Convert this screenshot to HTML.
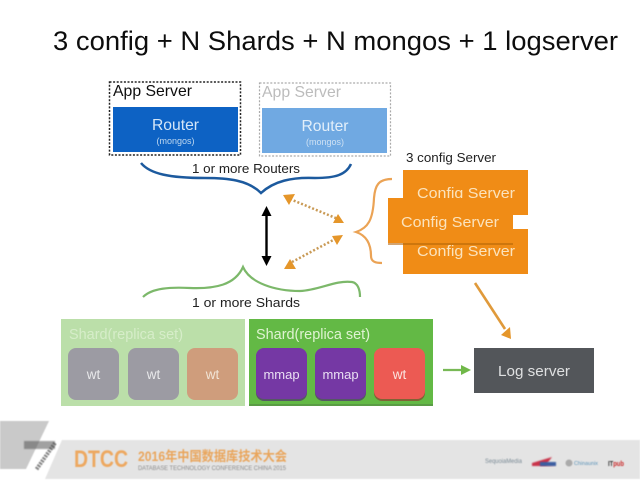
<!DOCTYPE html>
<html><head><meta charset="utf-8">
<style>
html,body{margin:0;padding:0;background:#fff;width:640px;height:480px;overflow:hidden}
svg{display:block}
text{font-family:"Liberation Sans","Noto Sans CJK SC",sans-serif}
</style></head>
<body>
<svg width="640" height="480" viewBox="0 0 640 480" xmlns="http://www.w3.org/2000/svg">
<defs>
<filter id="b" x="-20%" y="-20%" width="140%" height="140%"><feGaussianBlur stdDeviation="0.8"/></filter>
<filter id="s" x="-10%" y="-10%" width="120%" height="120%"><feGaussianBlur stdDeviation="0.5"/></filter>
<filter id="g" x="0" y="0" width="100%" height="100%"><feGaussianBlur stdDeviation="0.3"/></filter>
</defs>
<rect width="640" height="480" fill="#fff"/>
<g filter="url(#g)">
<text x="53" y="50" font-size="27" fill="#111" textLength="565" lengthAdjust="spacingAndGlyphs">3 config + N Shards + N mongos + 1 logserver</text>

<!-- App servers -->
<rect x="109.500" y="82" width="131" height="73" fill="#fff" stroke="#222" stroke-width="1.500" stroke-dasharray="2 1.600"/>
<text x="113" y="96" font-size="16" fill="#111" textLength="79" lengthAdjust="spacingAndGlyphs">App Server</text>
<rect x="113" y="107" width="125" height="45" fill="#0b62c4"/>
<text x="175.500" y="130" font-size="16" fill="#d5e6f7" text-anchor="middle" textLength="47" lengthAdjust="spacingAndGlyphs">Router</text>
<text x="175.500" y="144" font-size="9" fill="#c0d8f0" text-anchor="middle">(mongos)</text>

<rect x="259.500" y="83" width="131" height="73" fill="#fff" stroke="#aaa" stroke-width="1.200" stroke-dasharray="2 1.600"/>
<text x="262" y="97" font-size="16" fill="#bcbcbc" textLength="79" lengthAdjust="spacingAndGlyphs">App Server</text>
<rect x="262" y="108" width="125" height="45" fill="#6fa9e2"/>
<text x="325" y="131" font-size="16" fill="#e3effa" text-anchor="middle" textLength="47" lengthAdjust="spacingAndGlyphs">Router</text>
<text x="325" y="145" font-size="9" fill="#cfe1f3" text-anchor="middle">(mongos)</text>

<!-- Router brace -->
<path d="M141 163 C150 174 170 178 205 178 C228 178 248 180 261 193 C274 181 292 177 315 178 C335 178 346 175 351 164" fill="none" stroke="#1f5a9e" stroke-width="2.500"/>
<text x="246" y="173" font-size="13" fill="#222" text-anchor="middle" textLength="108" lengthAdjust="spacingAndGlyphs">1 or more Routers</text>

<!-- Black double arrow -->
<line x1="266.500" y1="215" x2="266.500" y2="258" stroke="#000" stroke-width="2.400"/>
<polygon points="266.500,206 261.500,216 271.500,216" fill="#000"/>
<polygon points="266.500,266 261.500,256 271.500,256" fill="#000"/>

<!-- Orange dotted arrows -->
<line x1="290" y1="199" x2="338" y2="219" stroke="#c99a55" stroke-width="2.500" stroke-dasharray="2 2"/>
<polygon points="283,195 295,194 289,205" fill="#e5962c"/>
<polygon points="344,223 333,223 338,214" fill="#e5962c"/>
<line x1="292" y1="262" x2="337" y2="238" stroke="#c99a55" stroke-width="2.500" stroke-dasharray="2 2"/>
<polygon points="284,269 290,259 296,269" fill="#e5962c"/>
<polygon points="343,235 332,236 337,245" fill="#e5962c"/>

<!-- Config -->
<text x="406" y="162" font-size="12.500" fill="#222" textLength="90" lengthAdjust="spacingAndGlyphs">3 config Server</text>
<path d="M392 179 C378 179 375 186 374 198 C373 220 368 228 356 232 C368 236 371 246 371 256 C371 262 376 263 382 263" fill="none" stroke="#eba355" stroke-width="2.200"/>
<rect x="403" y="170" width="125" height="45" fill="#f08c16"/>
<text x="466" y="198" font-size="15" fill="#fbe3bd" text-anchor="middle" textLength="98" lengthAdjust="spacingAndGlyphs">Config Server</text>
<rect x="403" y="229" width="125" height="45" fill="#f08c16"/>
<text x="466" y="256" font-size="15" fill="#fbe3bd" text-anchor="middle" textLength="98" lengthAdjust="spacingAndGlyphs">Config Server</text>
<rect x="388" y="199" width="125" height="46" fill="#b5680f" opacity=".6"/>
<rect x="388" y="198" width="125" height="45" fill="#f08c16"/>
<text x="450" y="227" font-size="15" fill="#fbe3bd" text-anchor="middle" textLength="98" lengthAdjust="spacingAndGlyphs">Config Server</text>

<!-- Shard brace -->
<path d="M143 297 C152 288 170 287 190 288 C215 289 235 285 243 267 C250 283 275 291 300 291 C320 290 335 280 352 282 C358 283 360 290 360 297" fill="none" stroke="#7cb86a" stroke-width="2.200"/>
<text x="246" y="307" font-size="13" fill="#222" text-anchor="middle" textLength="108" lengthAdjust="spacingAndGlyphs">1 or more Shards</text>

<!-- Faded shard -->
<rect x="61" y="319" width="184" height="87" fill="#bbdfa9"/>
<text x="69" y="339" font-size="14.500" fill="#d6edc9" textLength="114" lengthAdjust="spacingAndGlyphs">Shard(replica set)</text>
<rect x="68" y="348" width="51" height="52" rx="8" fill="#9c9ba3"/>
<rect x="128" y="348" width="51" height="52" rx="8" fill="#9c9ba3"/>
<rect x="187" y="348" width="51" height="52" rx="8" fill="#cf9d7b"/>
<text x="93.500" y="379" font-size="13.500" fill="#e8e8ea" text-anchor="middle">wt</text>
<text x="153.500" y="379" font-size="13.500" fill="#e8e8ea" text-anchor="middle">wt</text>
<text x="212.500" y="379" font-size="13.500" fill="#f1e4d6" text-anchor="middle">wt</text>

<!-- Active shard -->
<rect x="249" y="319" width="184" height="87" fill="#64b944"/>
<rect x="249" y="404" width="184" height="2" fill="#5a9c44"/>
<text x="256" y="339" font-size="14.500" fill="#dff3d2" textLength="114" lengthAdjust="spacingAndGlyphs">Shard(replica set)</text>
<rect x="256" y="349" width="51" height="52" rx="8" fill="#4d2f70" opacity=".7"/>
<rect x="315" y="349" width="51" height="52" rx="8" fill="#4d2f70" opacity=".7"/>
<rect x="374" y="349" width="51" height="52" rx="8" fill="#8a4030" opacity=".7"/>
<rect x="256" y="348" width="51" height="51" rx="8" fill="#7438a4"/>
<rect x="315" y="348" width="51" height="51" rx="8" fill="#7438a4"/>
<rect x="374" y="348" width="51" height="51" rx="8" fill="#ec5a52"/>
<text x="281.500" y="379" font-size="13" fill="#eadff3" text-anchor="middle">mmap</text>
<text x="340.500" y="379" font-size="13" fill="#eadff3" text-anchor="middle">mmap</text>
<text x="399.500" y="379" font-size="13.500" fill="#fbe4e0" text-anchor="middle">wt</text>

<!-- Log server -->
<line x1="475" y1="283" x2="505" y2="329" stroke="#e09a3a" stroke-width="2.600"/>
<polygon points="511,339 501,335 510,327" fill="#e5962c"/>
<line x1="443" y1="370" x2="462" y2="370" stroke="#78b956" stroke-width="2.200"/>
<polygon points="471,370 461,365 461,375" fill="#70b848"/>
<rect x="474" y="348" width="120" height="45" fill="#53565a"/>
<text x="534" y="376" font-size="14.500" fill="#dfe0e1" text-anchor="middle" textLength="72" lengthAdjust="spacingAndGlyphs">Log server</text>
</g>

<!-- Footer -->
<polygon points="62,440 640,440 640,479 45,479" fill="#e4e4e4" filter="url(#s)"/>
<polygon points="0,421 49,421 26,469 0,469" fill="#c9c9c9" filter="url(#s)"/>
<polygon points="50,440 33,471 43,471 57,440" fill="#fff"/>
<rect x="24" y="441" width="31" height="8" fill="#555" opacity=".55" filter="url(#b)"/>
<line x1="55" y1="443" x2="36" y2="470" stroke="#555" stroke-width="4" stroke-dasharray="2 1" opacity=".7" filter="url(#s)"/>
<text x="74" y="467" font-size="24" font-weight="bold" fill="#eda860" textLength="54" lengthAdjust="spacingAndGlyphs" filter="url(#s)">DTCC</text>
<text x="138" y="461" font-size="13.500" font-weight="bold" fill="#e9a55c" textLength="149" lengthAdjust="spacingAndGlyphs" filter="url(#s)">2016年中国数据库技术大会</text>
<text x="138" y="470" font-size="6" fill="#8b8b8b" textLength="148" lengthAdjust="spacingAndGlyphs" filter="url(#s)">DATABASE TECHNOLOGY CONFERENCE CHINA 2015</text>
<text x="485" y="463" font-size="6.500" fill="#7a8a95" textLength="37" lengthAdjust="spacingAndGlyphs" filter="url(#s)">SequoiaMedia</text>
<polygon points="532,463 552,457 546,465 556,466 532,466" fill="#c93348" filter="url(#b)"/>
<rect x="540" y="462" width="16" height="4" fill="#3a5da0" filter="url(#b)"/>
<circle cx="569" cy="463" r="3.500" fill="#aaa" filter="url(#s)"/>
<text x="574" y="465" font-size="5.500" fill="#5b93b8" textLength="24" lengthAdjust="spacingAndGlyphs" filter="url(#s)">Chinaunix</text>
<text x="608" y="466" font-size="7.500" font-weight="bold" fill="#333" textLength="16" lengthAdjust="spacingAndGlyphs" filter="url(#s)">IT<tspan fill="#c92a2a">pub</tspan></text>
</svg>
</body></html>
